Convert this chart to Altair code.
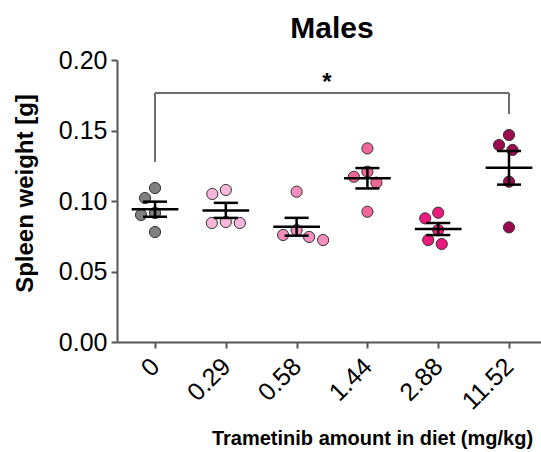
import altair as alt
import pandas as pd
import numpy as np

# ---------------- data ----------------
categories = ["0", "0.29", "0.58", "1.44", "2.88", "11.52"]
dose_0 = [0.1092, 0.1021, 0.0915, 0.0901, 0.0780]
dose_029 = [0.1078, 0.1050, 0.0851, 0.0844, 0.0844]
dose_058 = [0.1066, 0.0794, 0.0759, 0.0745, 0.0723]
dose_144 = [0.1373, 0.1208, 0.1172, 0.1130, 0.0924]
dose_288 = [0.0917, 0.0877, 0.0794, 0.0723, 0.0695]
dose_1152 = [0.1468, 0.1397, 0.1362, 0.1137, 0.0813]
groups = [dose_0, dose_029, dose_058, dose_144, dose_288, dose_1152]

colors = ["#808080", "#f8b6da", "#f58dbd", "#ef6698", "#ec1a7f", "#9c0a50"]

# significance bracket (0 vs 11.52)
sig_from, sig_to = 0, 5
sig_top = 0.1766
sig_left_end = 0.1277
sig_right_end = 0.1617
sig_label = "*"
star_y = 0.1785

title_text = "Males"
x_title = "Trametinib amount in diet (mg/kg)"
y_title = "Spleen weight [g]"
y_ticks = [0.0, 0.05, 0.10, 0.15, 0.20]

# ---------------- layout ----------------
W, H = 424, 282
YMAX = 0.2
x_lo, x_hi = -0.537, 5.452
step_px = W / (x_hi - x_lo)
FONT = "Liberation Sans"


def beeswarm(vals, d=14.0):
    ys = [v * H / YMAX for v in vals]
    out = [0.0] * len(vals)
    placed = []
    cands = [0.0] + [s * j * 0.5 for j in range(1, 200) for s in (-1, 1)]
    for i in sorted(range(len(vals)), key=lambda k: -vals[k]):
        for dx in cands:
            if all((dx - px) ** 2 + (ys[i] - py) ** 2 >= d * d for px, py in placed):
                out[i] = dx
                placed.append((dx, ys[i]))
                break
    return [o / step_px for o in out]


rows = []
stats = []
for gi, (cat, vals) in enumerate(zip(categories, groups)):
    offs = beeswarm(vals)
    for v, o in zip(vals, offs):
        rows.append({"cat": cat, "xpos": gi + o, "value": v})
    arr = np.array(vals)
    m = arr.mean()
    sem = arr.std(ddof=1) / np.sqrt(len(arr))
    stats.append({"idx": gi, "mean": m, "lo": m - sem, "hi": m + sem,
                  "ml": gi - 0.33, "mr": gi + 0.33, "cl": gi - 0.17, "cr": gi + 0.17})

pts_df = pd.DataFrame(rows)
st_df = pd.DataFrame(stats)
br_df = pd.DataFrame([
    {"x": sig_from, "x2": sig_to, "y": sig_top, "y2": sig_top},
    {"x": sig_from, "x2": sig_from, "y": sig_top, "y2": sig_left_end},
    {"x": sig_to, "x2": sig_to, "y": sig_top, "y2": sig_right_end},
])
star_df = pd.DataFrame([{"x": (sig_from + sig_to) / 2, "y": star_y, "t": sig_label}])

label_arr = "[" + ",".join("'%s'" % c for c in categories) + "]"

xscale = alt.Scale(domain=[x_lo, x_hi], nice=False, zero=False)
yscale = alt.Scale(domain=[0, YMAX], nice=False)

xaxis = alt.Axis(values=list(range(len(categories))), labelExpr=label_arr + "[datum.value]",
                 labelAngle=315, labelAlign="right", labelBaseline="middle",
                 labelFontSize=25, labelPadding=14, tickSize=6, grid=False,
                 titleFontSize=20, titleFontWeight="bold", titleX=255, titleY=102,
                 titleBaseline="alphabetic", titleAlign="center")
yaxis = alt.Axis(values=y_ticks, format=".2f", labelFontSize=25, labelPadding=4,
                 tickSize=6, grid=False,
                 titleFontSize=24, titleFontWeight="bold", titleAngle=270,
                 titleX=-85, titleY=133, titleBaseline="alphabetic", titleAlign="center")

points = alt.Chart(pts_df).mark_circle(size=125, opacity=1, stroke="#333333", strokeWidth=1).encode(
    x=alt.X("xpos:Q", scale=xscale, axis=xaxis, title=x_title),
    y=alt.Y("value:Q", scale=yscale, axis=yaxis, title=y_title),
    color=alt.Color("cat:N", scale=alt.Scale(domain=categories, range=colors), legend=None),
)

base = alt.Chart(st_df)
mean_line = base.mark_rule(color="black", strokeWidth=2.5).encode(
    x=alt.X("ml:Q", title=x_title), x2="mr:Q", y=alt.Y("mean:Q", title=y_title))
cap_hi = base.mark_rule(color="black", strokeWidth=2.5).encode(
    x=alt.X("cl:Q", title=x_title), x2="cr:Q", y=alt.Y("hi:Q", title=y_title))
cap_lo = base.mark_rule(color="black", strokeWidth=2.5).encode(
    x=alt.X("cl:Q", title=x_title), x2="cr:Q", y=alt.Y("lo:Q", title=y_title))
vert = base.mark_rule(color="black", strokeWidth=2.5).encode(
    x=alt.X("idx:Q", title=x_title), y=alt.Y("lo:Q", title=y_title), y2="hi:Q")

bracket = alt.Chart(br_df).mark_rule(color="#6e6e6e", strokeWidth=2).encode(
    x=alt.X("x:Q", title=x_title), x2="x2:Q", y=alt.Y("y:Q", title=y_title), y2="y2:Q")
star = alt.Chart(star_df).mark_text(font=FONT, fontSize=24, fontWeight="bold",
                                    baseline="alphabetic", dx=-5).encode(
    x=alt.X("x:Q", title=x_title), y=alt.Y("y:Q", title=y_title), text="t:N")

chart = alt.layer(points, mean_line, cap_hi, cap_lo, vert, bracket, star).properties(
    width=W, height=H,
    title=alt.TitleParams(title_text, font=FONT, fontSize=30, fontWeight="bold",
                          anchor="middle", frame="group", baseline="alphabetic",
                          offset=10, dx=3, dy=30),
    autosize=alt.AutoSizeParams(type="none"),
    padding={"left": 117, "top": 60, "right": 0, "bottom": 110},
).configure_axis(
    labelFont=FONT, titleFont=FONT, labelColor="black", titleColor="black",
    domainColor="#555555", domainWidth=2, tickColor="#555555", tickWidth=2,
).configure_view(stroke=None)

chart.save("out.html", embed_options={"renderer": "svg", "actions": False})
